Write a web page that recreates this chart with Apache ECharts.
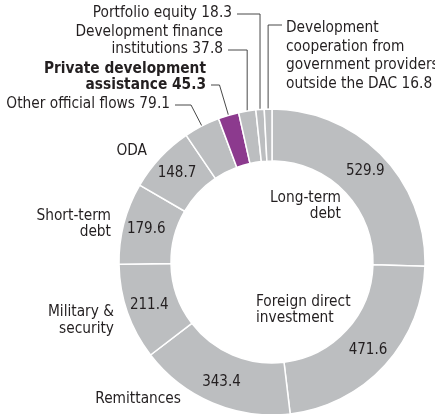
<!DOCTYPE html>
<html>
<head>
<meta charset="utf-8">
<script src="https://cdn.jsdelivr.net/npm/echarts@6/dist/echarts.min.js"></script>
<style>
html, body { margin: 0; padding: 0; background: #fff; }
#chart { width: 435px; height: 414px; }
</style>
</head>
<body>
<div id="chart"></div>
<script>
// resource flows, clockwise from 12 o'clock
const categories = [
  'Long-term debt',
  'Foreign direct investment',
  'Remittances',
  'Military & security',
  'Short-term debt',
  'ODA',
  'Other official flows',
  'Private development assistance',
  'Development finance institutions',
  'Portfolio equity',
  'Development cooperation from government providers outside the DAC'
];
const values = [529.9, 471.6, 343.4, 211.4, 179.6, 148.7, 79.1, 45.3, 37.8, 18.3, 16.8];
// how the names are broken over lines on the picture
const nameLines = [
  ['Long-term', 'debt'],
  ['Foreign direct', 'investment'],
  ['Remittances'],
  ['Military &', 'security'],
  ['Short-term', 'debt'],
  ['ODA'],
  ['Other official flows'],
  ['Private development', 'assistance'],
  ['Development finance', 'institutions'],
  ['Portfolio equity'],
  ['Development', 'cooperation from', 'government providers', 'outside the DAC']
];
const highlighted = 'Private development assistance';
// slices this small get their value next to the name instead of on the ring
const smallLimit = 100;

const GREY = '#bcbec0';
const PURPLE = '#8c3a8e';
const INK = '#231f20';
const FONT = '"DejaVu Sans Condensed", "Liberation Sans", sans-serif';
const CENTER = [272, 262];

// placement of the name labels (top anchor + leader line)
const namePos = [
  { x: 341, y: 190, align: 'right', lh: 16 },
  { x: 256, y: 294, align: 'left', lh: 16 },
  { x: 181, y: 391, align: 'right', lh: 17 },
  { x: 114, y: 304, align: 'right', lh: 17 },
  { x: 111, y: 208, align: 'right', lh: 16 },
  { x: 147, y: 143, align: 'right', lh: 17 },
  { x: 170, y: 96, align: 'right', lh: 17, line: 'r', lineY: 105, endX: 175 },
  { x: 206, y: 61, align: 'right', lh: 16, line: 'r', lineY: 85, endX: 211 },
  { x: 223, y: 24, align: 'right', lh: 17, line: 'v', lineY: 50, endX: 228 },
  { x: 232, y: 5, align: 'right', lh: 17, line: 'v', lineY: 14, endX: 237 },
  { x: 286, y: 19, align: 'left', lh: 18.5, line: 'v', lineY: 25, endX: 282 }
];

const ringData = categories.map((name, i) => ({
  name: name,
  value: values[i],
  itemStyle: { color: name === highlighted ? PURPLE : GREY }
}));

const nameData = categories.map((name, i) => {
  let lines = nameLines[i].slice();
  if (values[i] < smallLimit) lines[lines.length - 1] += ' ' + values[i].toFixed(1);
  return {
    name: name,
    value: values[i],
    label: {
      formatter: lines.join('\n'),
      align: namePos[i].align,
      lineHeight: namePos[i].lh,
      fontWeight: name === highlighted ? 'bold' : 'normal'
    },
    labelLine: { show: !!namePos[i].line }
  };
});

const chart = echarts.init(document.getElementById('chart'));
chart.setOption({
  animation: false,
  series: [
    {
      name: 'ring',
      type: 'pie',
      center: CENTER,
      radius: [101, 153],
      startAngle: 90,
      clockwise: true,
      avoidLabelOverlap: false,
      silent: true,
      itemStyle: { borderColor: '#fff', borderWidth: 1.5 },
      label: {
        show: true,
        position: 'inside',
        color: INK,
        fontFamily: FONT,
        fontSize: 15,
        formatter: p => (p.value >= smallLimit ? p.value.toFixed(1) : '')
      },
      labelLine: { show: false },
      data: ringData
    },
    {
      name: 'names',
      type: 'pie',
      center: CENTER,
      radius: [101, 153],
      startAngle: 90,
      clockwise: true,
      avoidLabelOverlap: false,
      silent: true,
      itemStyle: { color: 'transparent', borderWidth: 0 },
      label: {
        show: true,
        position: 'outside',
        alignTo: 'none',
        width: 220,
        overflow: 'none',
        color: INK,
        fontFamily: FONT,
        fontSize: 15.3
      },
      labelLine: {
        show: false,
        length: 10,
        length2: 10,
        lineStyle: { color: '#333', width: 0.9 }
      },
      labelLayout: params => {
        const p = namePos[params.dataIndex];
        const out = { x: p.x, y: p.y, align: p.align, verticalAlign: 'top' };
        if (p.line && params.labelLinePoints) {
          const a = params.labelLinePoints[0];
          let bend;
          if (p.line === 'v') {
            bend = [a[0], p.lineY];
          } else {
            const dx = a[0] - CENTER[0];
            const dy = a[1] - CENTER[1];
            const t = (p.lineY - a[1]) / dy;
            bend = [a[0] + dx * t, p.lineY];
          }
          out.labelLinePoints = [a, bend, [p.endX, p.lineY]];
        }
        return out;
      },
      data: nameData
    }
  ]
});
</script>
</body>
</html>
